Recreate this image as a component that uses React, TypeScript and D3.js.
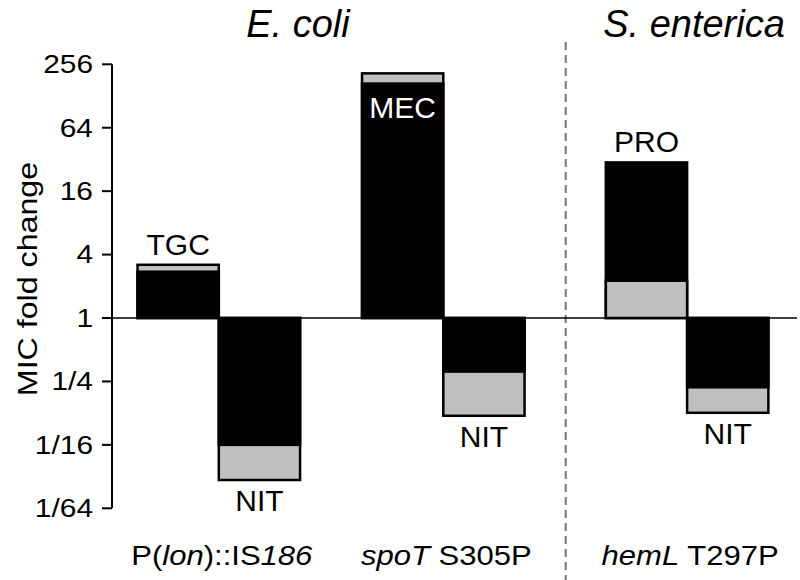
import React from "react";
import * as d3 from "d3";

// ---- data ----
const categories = ["P(lon)::IS186", "spoT S305P", "hemL T297P"];
const upDrugs = ["TGC", "MEC", "PRO"];
const downDrugs = ["NIT", "NIT", "NIT"];
// fold changes (black and grey series) for the resistance (up) bars
const upBlack = [2.75, 168, 30];
const upGrey = [3.2, 210, 2.26];
// fold changes for the collateral-sensitivity (down) bars
const downBlack = [0.0625, 0.31, 0.22];
const downGrey = [0.029, 0.118, 0.126];
const tickValues = [1 / 64, 1 / 16, 1 / 4, 1, 4, 16, 64, 256];
const tickLabels = ["1/64", "1/16", "1/4", "1", "4", "16", "64", "256"];
const species = ["E. coli", "S. enterica"];

const W = 800;
const H = 580;
const FONT = "'Liberation Sans', Arial, Helvetica, sans-serif";
const GREY = "#c0c0c0";

export default function App() {
  const y = d3.scaleLog().base(2).domain([1 / 64, 256]).range([508.3, 64.3]);
  // group positions: extra gap after the separator between species
  const groupPos = (i: number) => i + (i >= 2 ? 0.086 : 0);
  const x = d3.scaleLinear().domain([0, 1]).range([218.8, 443.3]);
  const barW = x(0.362) - x(0);
  const axisX = 112;
  const sepX = (x(groupPos(1)) + x(groupPos(2))) / 2 + 0.5;

  const bars: any[] = [];
  categories.forEach((c, i) => {
    const cx = x(groupPos(i));
    const pairs = [
      { x0: cx - barW, black: upBlack[i], grey: upGrey[i], label: upDrugs[i], up: true },
      { x0: cx, black: downBlack[i], grey: downGrey[i], label: downDrugs[i], up: false },
    ];
    pairs.forEach((p, j) => {
      const mag = (v: number) => Math.abs(Math.log2(v));
      const segs = [
        { v: p.black, fill: "#000" },
        { v: p.grey, fill: GREY },
      ].sort((a, b) => mag(b.v) - mag(a.v));
      bars.push({ ...p, segs, key: `${i}-${j}` });
    });
  });

  const rectFor = (x0: number, v: number) => {
    const y0 = y(1);
    const y1 = y(v);
    return { x: x0, y: Math.min(y0, y1), width: barW, height: Math.abs(y1 - y0) };
  };

  return (
    <svg width={W} height={H} style={{ position: "absolute", left: 0, top: 0, background: "#fff" }} fontFamily={FONT}>
      {/* species titles */}
      <text x={298} y={37} fontSize={38} fontStyle="italic" textAnchor="middle">{species[0]}</text>
      <text x={694} y={37} fontSize={38} fontStyle="italic" textAnchor="middle">{species[1]}</text>

      {/* separator */}
      <line x1={sepX} x2={sepX} y1={42} y2={H} stroke="#777" strokeWidth={2} strokeDasharray="8,5" />

      {/* zero line */}
      <line x1={axisX} x2={797} y1={y(1)} y2={y(1)} stroke="#000" strokeWidth={1.6} />

      {/* bars */}
      {bars.map((b) => (
        <g key={b.key}>
          {b.segs.map((s: any, k: number) => {
            const r = rectFor(b.x0, s.v);
            return (
              <rect key={k} x={r.x} y={r.y} width={r.width} height={r.height} fill={s.fill} stroke="#000" strokeWidth={2.5} />
            );
          })}
        </g>
      ))}

      {/* bar labels */}
      {bars.map((b) => {
        const outer = b.segs[0].v;
        const cx = b.x0 + barW / 2;
        if (b.label === "MEC") {
          return (
            <text key={"l" + b.key} x={cx} y={y(outer) + 45} fontSize={30} fill="#fff" textAnchor="middle">{b.label}</text>
          );
        }
        return (
          <text key={"l" + b.key} x={cx} y={b.up ? y(outer) - 10 : y(outer) + 31} fontSize={30} textAnchor="middle">{b.label}</text>
        );
      })}

      {/* y axis */}
      <line x1={axisX} x2={axisX} y1={y(256)} y2={y(1 / 64)} stroke="#000" strokeWidth={2} />
      {tickValues.map((v, i) => (
        <g key={i}>
          <line x1={axisX - 10} x2={axisX} y1={y(v)} y2={y(v)} stroke="#000" strokeWidth={2} />
          <text transform={`translate(93,${y(v)}) scale(1.15,1)`} fontSize={26} textAnchor="end" dominantBaseline="central">{tickLabels[i]}</text>
        </g>
      ))}
      <text transform={`translate(36.5,279) rotate(-90) scale(1.15,1)`} fontSize={28} textAnchor="middle">MIC fold change</text>

      {/* category labels */}
      <text transform={`translate(${x(groupPos(0)) + 3},565) scale(1.15,1)`} fontSize={27} textAnchor="middle">
        P(<tspan fontStyle="italic">lon</tspan>)::IS<tspan fontStyle="italic">186</tspan>
      </text>
      <text transform={`translate(${x(groupPos(1)) + 3},565) scale(1.15,1)`} fontSize={27} textAnchor="middle">
        <tspan fontStyle="italic">spoT</tspan> S305P
      </text>
      <text transform={`translate(${x(groupPos(2)) + 3},565) scale(1.15,1)`} fontSize={27} textAnchor="middle">
        <tspan fontStyle="italic">hemL</tspan> T297P
      </text>
    </svg>
  );
}
